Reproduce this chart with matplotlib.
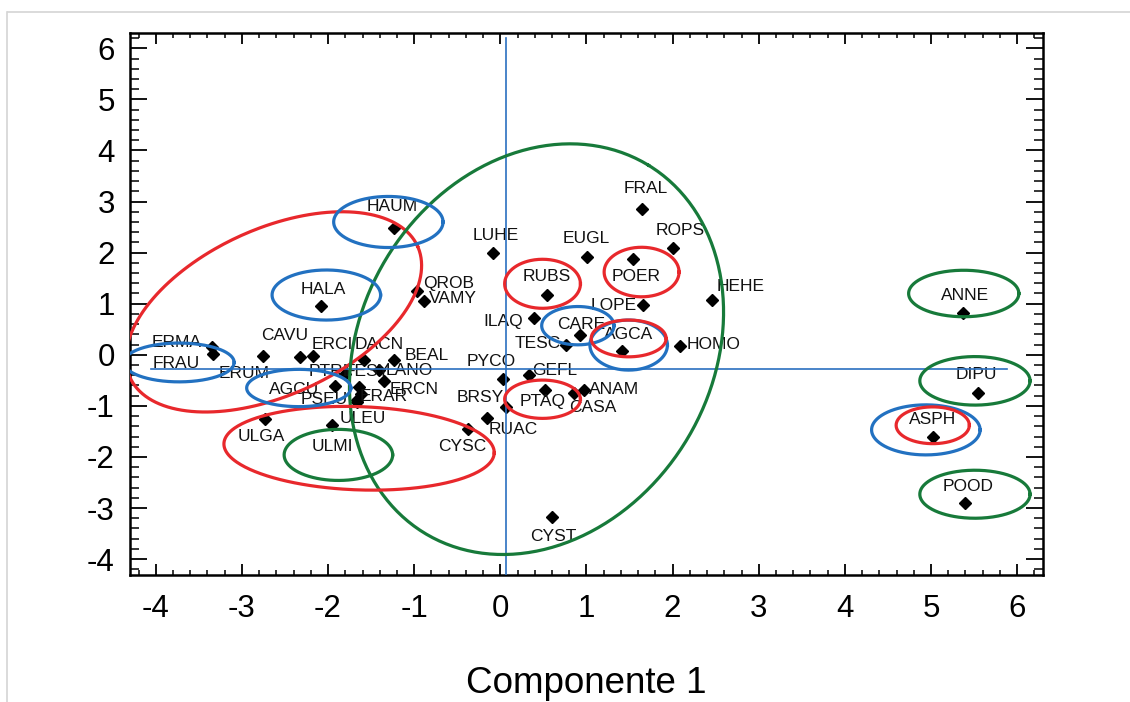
import numpy as np
import matplotlib
matplotlib.use('Agg')
import matplotlib.pyplot as plt
from matplotlib.lines import Line2D
from matplotlib.ticker import MultipleLocator

plt.rcParams['font.family'] = ['Liberation Sans', 'DejaVu Sans']
plt.rcParams['axes.unicode_minus'] = False

# ── species scores (component 1, component 2) ────────────────────────────────
names = ['HAUM', 'HALA', 'QROB', 'VAMY', 'ERMA', 'FRAU', 'ERUM', 'CAVU', 'ERCI',
         'DACN', 'BEAL', 'LANO', 'ERCN', 'PTRI', 'AGCU', 'FESY', 'ERAR', 'PSEU',
         'ULEU', 'ULGA', 'ULMI', 'CYSC', 'FRAL', 'ROPS', 'EUGL', 'LUHE', 'POER',
         'RUBS', 'LOPE', 'HEHE', 'ILAQ', 'CARE', 'TESC', 'AGCA', 'HOMO', 'PYCO',
         'GEFL', 'ANAM', 'CASA', 'PTAQ', 'BRSY', 'RUAC', 'CYST', 'ANNE', 'DIPU',
         'ASPH', 'POOD']
comp1 = [-1.24, -2.08, -0.97, -0.89, -3.35, -3.34, -2.76, -2.33, -2.17,
         -1.58, -1.24, -1.41, -1.35, -1.80, -1.92, -1.64, -1.62, -1.66,
         -1.66, -2.73, -1.96, -0.37, 1.65, 2.01, 1.01, -0.09, 1.54,
         0.54, 1.66, 2.46, 0.39, 0.92, 0.76, 1.41, 2.09, 0.03,
         0.33, 0.97, 0.85, 0.52, 0.06, -0.16, 0.60, 5.37, 5.54,
         5.02, 5.40]
comp2 = [2.49, 0.96, 1.25, 1.05, 0.16, 0.01, -0.03, -0.05, -0.03,
         -0.10, -0.10, -0.30, -0.51, -0.38, -0.61, -0.63, -0.76, -0.89,
         -0.93, -1.25, -1.38, -1.46, 2.85, 2.10, 1.91, 1.99, 1.87,
         1.17, 0.97, 1.07, 0.72, 0.39, 0.19, 0.08, 0.18, -0.48,
         -0.40, -0.68, -0.74, -0.69, -1.03, -1.23, -3.17, 0.82, -0.74,
         -1.61, -2.90]
# label positions as printed by the program
label_x = [-1.25, -2.05, -0.60, -0.55, -3.76, -3.76, -2.98, -2.50, -1.95,
           -1.41, -0.86, -1.06, -1.00, -2.00, -2.39, -1.55, -1.36, -2.04,
           -1.60, -2.77, -1.95, -0.44, 1.69, 2.09, 1.00, -0.05, 1.58,
           0.54, 1.32, 2.79, 0.03, 0.94, 0.44, 1.49, 2.48, -0.11,
           0.63, 1.32, 1.07, 0.49, -0.23, 0.15, 0.61, 5.40, 5.53,
           5.02, 5.43]
label_y = [2.90, 1.27, 1.40, 1.11, 0.25, -0.17, -0.36, 0.37, 0.20,
           0.20, -0.01, -0.30, -0.67, -0.32, -0.67, -0.32, -0.82, -0.87,
           -1.25, -1.59, -1.80, -1.80, 3.26, 2.43, 2.28, 2.34, 1.54,
           1.53, 0.97, 1.33, 0.65, 0.60, 0.22, 0.39, 0.21, -0.14,
           -0.30, -0.67, -1.03, -0.92, -0.84, -1.46, -3.56, 1.17, -0.38,
           -1.26, -2.57]

# ── group ellipses: centre x, centre y, width (x units), height (y units), tilt ──
ell_cx = [-2.63, 0.42, -1.64, -1.30, -2.02, -3.73, -2.34, -1.88, 0.49, 1.64,
          0.90, 1.49, 1.49, 0.49, 5.38, 5.51, 4.94, 5.02, 5.51]
ell_cy = [0.84, 0.11, -1.83, 2.60, 1.17, -0.15, -0.65, -1.96, 1.39, 1.62,
          0.57, 0.19, 0.32, -0.87, 1.20, -0.51, -1.47, -1.38, -2.73]
ell_w = [3.67, 5.00, 3.14, 1.27, 1.26, 1.28, 1.21, 1.26, 0.88, 0.87,
         0.84, 0.90, 0.87, 0.88, 1.28, 1.28, 1.26, 0.85, 1.28]
ell_h = [3.25, 6.87, 1.63, 1.00, 0.98, 0.76, 0.73, 1.00, 0.96, 0.97,
         0.75, 0.98, 0.72, 0.75, 0.91, 0.95, 0.98, 0.72, 0.94]
ell_ang = [24.6, 58.7, -2, 0, 0, 0, 0, 0, 0, 0,
           0, 0, 0, 0, 0, 0, 0, 0, 0]
ell_col = ['red', 'green', 'red', 'blue', 'blue', 'blue', 'blue', 'green', 'red', 'red',
           'blue', 'blue', 'red', 'red', 'green', 'green', 'blue', 'red', 'green']
COLORS = {'red': '#e8282c', 'blue': '#2271c1', 'green': '#177a3a'}

XLIM = (-4.3, 6.3)
YLIM = (-4.31, 6.30)

fig = plt.figure(figsize=(11.3, 7.02), dpi=100)
ax = fig.add_axes([0.115, 0.181, 0.808, 0.772])
ax.set_xlim(*XLIM)
ax.set_ylim(*YLIM)

# pixels per data unit, so the tilted ellipses keep their on-screen shape
W_px = fig.get_figwidth() * fig.dpi * 0.808
H_px = fig.get_figheight() * fig.dpi * 0.772
sx = W_px / (XLIM[1] - XLIM[0])
sy = H_px / (YLIM[1] - YLIM[0])

# axis lines through the origin
ax.plot([0.06, 0.06], [YLIM[0], 6.20], color='#2a6fc0', lw=1.2, zorder=4)
ax.plot([-4.06, 5.88], [-0.27, -0.27], color='#2a6fc0', lw=1.2, zorder=4)

ax.plot(comp1, comp2, 'D', color='black', ms=6, zorder=3)
for n, lx, ly in zip(names, label_x, label_y):
    ax.text(lx, ly, n, ha='center', va='center', fontsize=12.5, color='#111111', zorder=3)

t = np.linspace(0, 2 * np.pi, 300)
for cx, cy, w, h, ang, c in zip(ell_cx, ell_cy, ell_w, ell_h, ell_ang, ell_col):
    u = w / 2 * sx * np.cos(t)
    v = h / 2 * sy * np.sin(t)
    th = np.radians(ang)
    ur = u * np.cos(th) - v * np.sin(th)
    vr = u * np.sin(th) + v * np.cos(th)
    ax.plot(cx + ur / sx, cy + vr / sy, color=COLORS[c], lw=2.3, zorder=5)

ax.xaxis.set_major_locator(MultipleLocator(1))
ax.xaxis.set_minor_locator(MultipleLocator(0.2))
ax.yaxis.set_major_locator(MultipleLocator(1))
ax.yaxis.set_minor_locator(MultipleLocator(0.2))
ax.tick_params(axis='x', which='major', direction='in', length=8, width=1.3,
               top=True, bottom=True, labelsize=22.5, pad=14)
ax.tick_params(axis='x', which='minor', direction='in', length=3.8, width=1.1,
               top=True, bottom=True)
ax.tick_params(axis='y', which='major', direction='in', length=12.5, width=1.3,
               left=True, right=True, labelsize=22.5, pad=11)
ax.tick_params(axis='y', which='minor', direction='in', length=6.5, width=1.1,
               left=True, right=True)
for sp in ax.spines.values():
    sp.set_linewidth(1.8)

ax.set_xlabel('Componente 1', fontsize=26.5, labelpad=30)

# light frame of the original page
fig.add_artist(Line2D([8 / 1130, 1], [1 - 12 / 702, 1 - 12 / 702], color='#d4d4d4', lw=1.2))
fig.add_artist(Line2D([7 / 1130, 7 / 1130], [0, 1 - 12 / 702], color='#d4d4d4', lw=1.2))

fig.savefig('out.png', dpi=100)
